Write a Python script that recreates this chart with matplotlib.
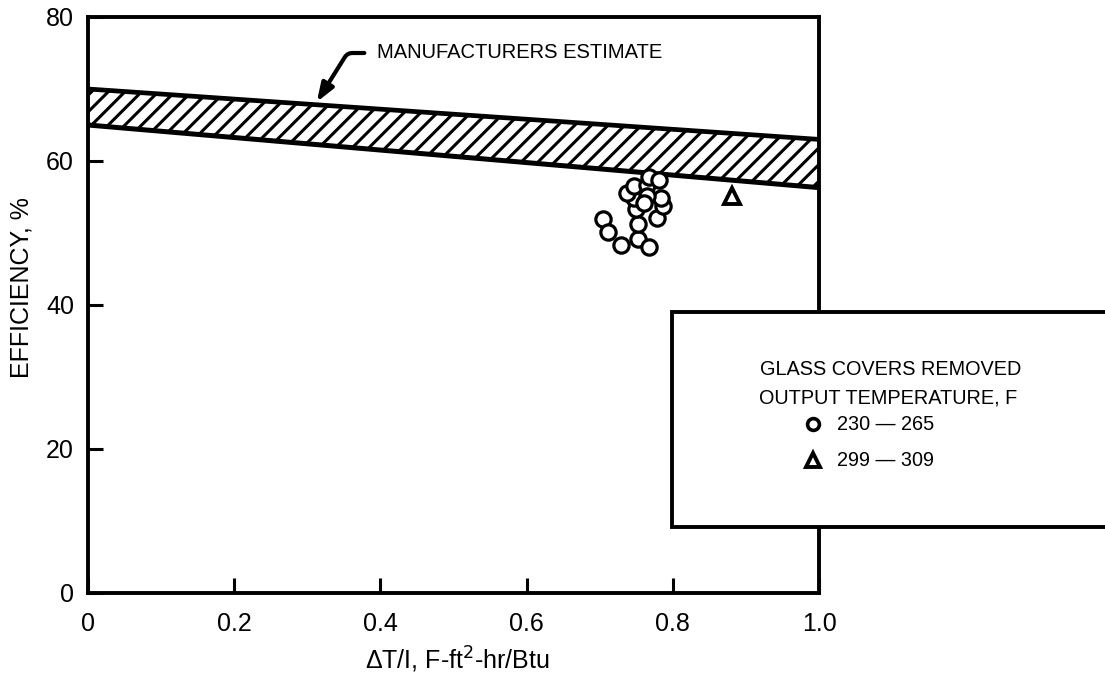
import matplotlib
matplotlib.use("Agg")
import matplotlib.pyplot as plt
from matplotlib.patches import Rectangle
from matplotlib.lines import Line2D

# ---- data ----
band_x = [0.0, 1.0]
band_upper = [70.0, 63.0]
band_lower = [65.0, 56.3]

circle_x = [0.705, 0.711, 0.729, 0.752, 0.767, 0.752, 0.749, 0.779, 0.786,
            0.784, 0.747, 0.738, 0.747, 0.765, 0.767, 0.781, 0.765, 0.760]
circle_y = [51.9, 50.2, 48.4, 49.1, 48.1, 51.2, 53.3, 52.1, 53.7,
            54.9, 54.9, 55.6, 56.5, 56.7, 57.8, 57.4, 55.1, 54.2]

tri_x = [0.881]
tri_y = [55.1]

x_ticks = [0, 0.2, 0.4, 0.6, 0.8, 1.0]
x_ticklabels = ["0", "0.2", "0.4", "0.6", "0.8", "1.0"]
y_ticks = [0, 20, 40, 60, 80]
y_ticklabels = ["0", "20", "40", "60", "80"]

annot_text = "MANUFACTURERS ESTIMATE"
legend_title = ["GLASS COVERS REMOVED", "OUTPUT TEMPERATURE, F"]
legend_labels = ["230 — 265", "299 — 309"]

# ---- figure ----
W, H = 1105, 688
plt.rcParams['font.family'] = ['Liberation Sans', 'DejaVu Sans']
plt.rcParams['hatch.linewidth'] = 2.2
fig = plt.figure(figsize=(W / 100, H / 100), dpi=100)

def fx(px):
    return px / W

def fy(py):
    return 1 - py / H

ax = fig.add_axes([fx(88), fy(593), fx(819) - fx(88), fy(17) - fy(593)])
ax.set_xlim(0, 1.0)
ax.set_ylim(0, 80)

# band
ax.fill_between(band_x, band_lower, band_upper, facecolor='white',
                edgecolor='black', hatch='//', linewidth=0, zorder=1)
ax.plot(band_x, band_upper, color='black', lw=3.4, zorder=2, solid_capstyle='butt')
ax.plot(band_x, band_lower, color='black', lw=3.6, zorder=2, solid_capstyle='butt')

# data
ax.plot(circle_x, circle_y, linestyle='none', marker='o', ms=11,
        mfc='white', mec='black', mew=2.3, zorder=3)
ax.plot(tri_x, tri_y, linestyle='none', marker='^', ms=11.5,
        mfc='white', mec='black', mew=2.8, zorder=3)

# annotation arrow
ax.annotate('', xy=(0.313, 68.2), xytext=(0.378, 75.0),
            arrowprops=dict(arrowstyle='-|>,head_length=1.1,head_width=0.4',
                            connectionstyle='angle,angleA=0,angleB=58,rad=5',
                            color='black', lw=3.0, shrinkA=0, shrinkB=0),
            zorder=4)
fig.text(fx(377), fy(53), annot_text, ha='left', va='center', fontsize=14.5)

# axes styling
for s in ax.spines.values():
    s.set_linewidth(2.8)
ax.set_xticks(x_ticks)
ax.set_xticklabels(x_ticklabels)
ax.set_yticks(y_ticks)
ax.set_yticklabels(y_ticklabels)
ax.tick_params(direction='in', length=11, width=2.2, labelsize=18, pad=10)
ax.tick_params(axis='x', pad=14)
ax.set_xlabel("ΔT/I, F-ft$^{2}$-hr/Btu", fontsize=18)
ax.set_ylabel("EFFICIENCY, %", fontsize=18)
ax.xaxis.set_label_coords(0.505, -0.09)
ax.yaxis.set_label_coords(-0.075, 0.53)

# legend box (drawn over right spine, extending beyond figure)
box = Rectangle((fx(672), fy(527)), fx(1140) - fx(672), fy(312) - fy(527),
                transform=fig.transFigure, facecolor='white', edgecolor='black',
                lw=2.8, zorder=10, clip_on=False)
fig.add_artist(box)
fig.text(fx(760), fy(370), legend_title[0], ha='left', va='center', fontsize=14.3, zorder=11)
fig.text(fx(759), fy(398), legend_title[1], ha='left', va='center', fontsize=14.3, zorder=11)
fig.add_artist(Line2D([fx(813)], [fy(424)], marker='o', ms=8.5, mfc='white', mec='black',
                      mew=2.6, transform=fig.transFigure, zorder=11))
fig.add_artist(Line2D([fx(813)], [fy(460)], marker='^', ms=9.5, mfc='white', mec='black',
                      mew=2.8, transform=fig.transFigure, zorder=11))
fig.text(fx(837), fy(424), legend_labels[0], ha='left', va='center', fontsize=14.3, zorder=11)
fig.text(fx(837), fy(460), legend_labels[1], ha='left', va='center', fontsize=14.3, zorder=11)

fig.savefig("out.png", dpi=100)
